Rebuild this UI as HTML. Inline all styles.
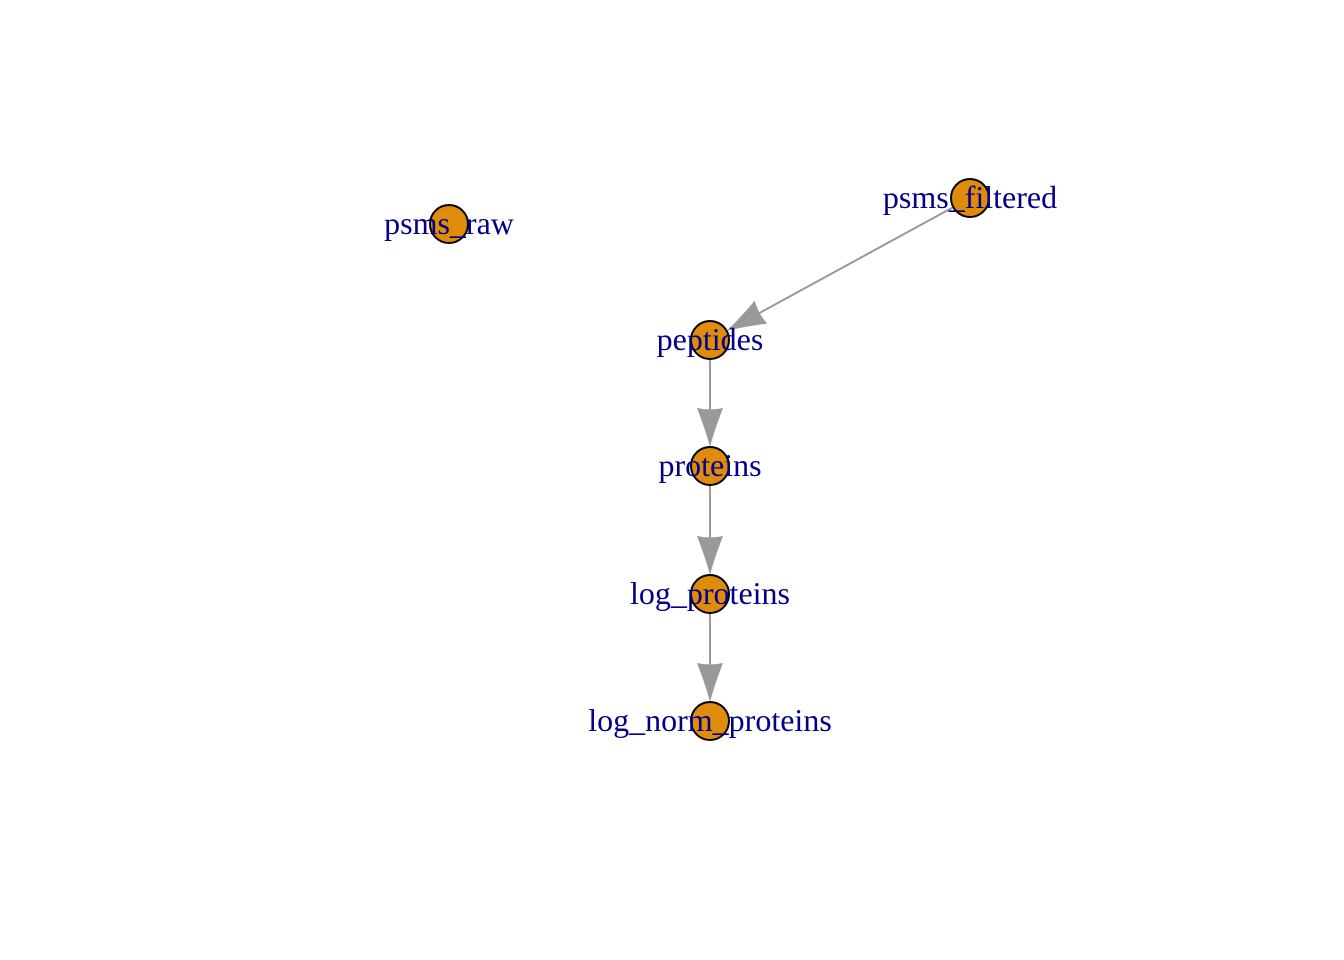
<!DOCTYPE html>
<html><head><meta charset="utf-8"><style>
html,body{margin:0;padding:0;background:#fff;}
svg{display:block;}
text{font-family:"Liberation Serif",serif;font-size:32px;fill:#00008B;}
</style></head><body>
<svg id="chart" width="1344" height="960" xmlns="http://www.w3.org/2000/svg">
<g id="edges"></g>
<g id="nodes"></g>
</svg>
<script>
const nodeNames = ["psms_raw","psms_filtered","peptides","proteins","log_proteins","log_norm_proteins"];
const nodeX = [449,970,710,710,710,710];
const nodeY = [224,198,340,466,594,721];
const edgeFrom = [1,2,3,4];
const edgeTo = [2,3,4,5];
const R = 19, HEAD = 39, HW = 13;
const NS = "http://www.w3.org/2000/svg";
const eg = document.getElementById('edges'), ng = document.getElementById('nodes');
for (let i = 0; i < edgeFrom.length; i++) {
  const a = edgeFrom[i], b = edgeTo[i];
  const dx = nodeX[b]-nodeX[a], dy = nodeY[b]-nodeY[a], L = Math.hypot(dx,dy);
  const ux = dx/L, uy = dy/L, px = -uy, py = ux;
  const sx = nodeX[a]+ux*R, sy = nodeY[a]+uy*R;
  const tx = nodeX[b]-ux*R, ty = nodeY[b]-uy*R;
  const bx = tx-ux*HEAD, by = ty-uy*HEAD;
  const g = document.createElementNS(NS,'g');
  
  
  const ln = document.createElementNS(NS,'line');
  ln.setAttribute('x1',sx);ln.setAttribute('y1',sy);ln.setAttribute('x2',bx+ux*5);ln.setAttribute('y2',by+uy*5);
  ln.setAttribute('stroke','#999');ln.setAttribute('stroke-width','2');
  
  
  g.appendChild(ln);
  const lx = bx+px*HW, ly = by+py*HW, rx = bx-px*HW, ry = by-py*HW;
  const c1x = bx+ux*HEAD*0.6+px*4, c1y = by+uy*HEAD*0.6+py*4;
  const c2x = bx+ux*HEAD*0.6-px*4, c2y = by+uy*HEAD*0.6-py*4;
  const mx = bx+ux*3, my = by+uy*3;
  const hd = document.createElementNS(NS,'path');
  hd.setAttribute('d',`M${tx},${ty} Q${c1x},${c1y} ${lx},${ly} Q${mx},${my} ${rx},${ry} Q${c2x},${c2y} ${tx},${ty}Z`);
  hd.setAttribute('fill','#999');
  
  
  g.appendChild(hd);
  eg.appendChild(g);
}
for (let i = 0; i < nodeNames.length; i++) {
  const g = document.createElementNS(NS,'g');
  
  
  const c = document.createElementNS(NS,'circle');
  c.setAttribute('cx',nodeX[i]);c.setAttribute('cy',nodeY[i]);c.setAttribute('r',R);
  c.setAttribute('fill','#E08C0B');c.setAttribute('stroke','#000');c.setAttribute('stroke-width','2');
  
  
  g.appendChild(c);
  const t = document.createElementNS(NS,'text');
  t.setAttribute('x',nodeX[i]);t.setAttribute('y',nodeY[i]+10);t.setAttribute('text-anchor','middle');
  t.textContent = nodeNames[i];
  
  
  g.appendChild(t);
  ng.appendChild(g);
}
</script>
</body></html>
